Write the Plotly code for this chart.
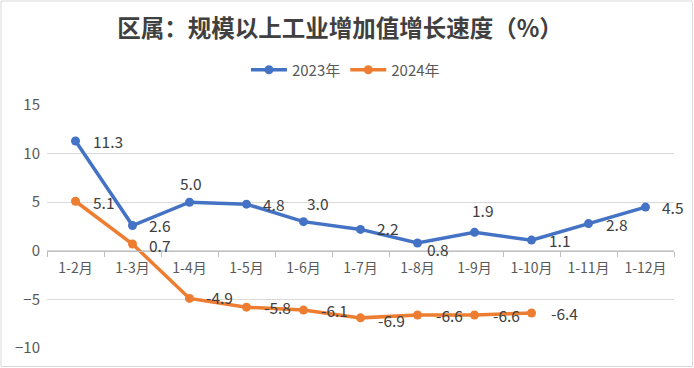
import plotly.graph_objects as go

categories = ["1-2月", "1-3月", "1-4月", "1-5月", "1-6月", "1-7月", "1-8月", "1-9月", "1-10月", "1-11月", "1-12月"]
values_2023 = [11.3, 2.6, 5.0, 4.8, 3.0, 2.2, 0.8, 1.9, 1.1, 2.8, 4.5]
values_2024 = [5.1, 0.7, -4.9, -5.8, -6.1, -6.9, -6.6, -6.6, -6.4]
y_ticks = [15, 10, 5, 0, -5, -10]

# label offsets (pixels) for data labels
off_2023 = [(32, 0), (27, 1), (1, 19), (27, 0), (14, 19), (27, 1), (20, -6), (8, 22), (28, 0), (28, 0), (27, 0)]
off_2024 = [(28, -1), (27, -1), (30, 1), (31, 0), (31, 0), (31, -2), (32, 0), (32, 0), (33, 0)]

BLUE = "#4472C4"
ORANGE = "#ED7D31"
FONT = "Noto Sans CJK SC"
TXT = "#404040"

fig = go.Figure()
fig.add_trace(go.Scatter(x=categories, y=values_2023, mode="lines+markers", name="2023年",
                         line=dict(color=BLUE, width=3.5), marker=dict(size=9, color=BLUE)))
fig.add_trace(go.Scatter(x=categories[:len(values_2024)], y=values_2024, mode="lines+markers", name="2024年",
                         line=dict(color=ORANGE, width=3.5), marker=dict(size=9, color=ORANGE)))

annotations = []
for vals, offs in ((values_2023, off_2023), (values_2024, off_2024)):
    for c, v, (dx, dy) in zip(categories, vals, offs):
        annotations.append(dict(x=c, y=v, xref="x", yref="y", text=f"{v:.1f}", showarrow=False,
                                xshift=dx, yshift=dy, font=dict(family=FONT, size=15.5, color=TXT)))

fig.update_layout(
    width=694, height=368,
    margin=dict(l=47, r=20, t=105, b=20),
    paper_bgcolor="white", plot_bgcolor="white",
    title=dict(text="<b>区属：规模以上工业增加值增长速度（%）</b>", x=0.49, xanchor="center",
               y=0.921, yanchor="middle", font=dict(family=FONT, size=23.5, color=TXT)),
    legend=dict(orientation="h", x=0.476, xanchor="center", y=1.144, yanchor="middle",
                font=dict(family=FONT, size=15, color="#595959"), itemwidth=36,
                bgcolor="rgba(0,0,0,0)", traceorder="normal"),
    xaxis=dict(type="category", categoryorder="array", categoryarray=categories,
               range=[-0.5, 10.5], anchor="free", position=0.4,
               showline=True, linecolor="#bfbfbf", linewidth=1,
               ticks="outside", tickson="boundaries", ticklen=5, tickcolor="#bfbfbf",
               ticklabelstandoff=4,
               showgrid=False, tickfont=dict(family=FONT, size=14, color="#595959")),
    yaxis=dict(range=[-10, 15], tickvals=y_ticks, showgrid=True, gridcolor="#d9d9d9", gridwidth=1,
               zeroline=False, showline=False, ticks="", ticklabelstandoff=6,
               tickfont=dict(family=FONT, size=15, color="#595959")),
    annotations=annotations,
    shapes=[dict(type="rect", xref="paper", yref="paper",
                 x0=(1 - 47) / 627, x1=(692.5 - 47) / 627,
                 y0=(348 - 366.5) / 243, y1=(348 - 1) / 243,
                 line=dict(color="#d9d9d9", width=1), layer="below")],
    showlegend=True,
)

fig.write_html("out.html", config={"displayModeBar": False},
               post_script="document.body.style.margin='0';document.body.style.overflow='hidden';")
